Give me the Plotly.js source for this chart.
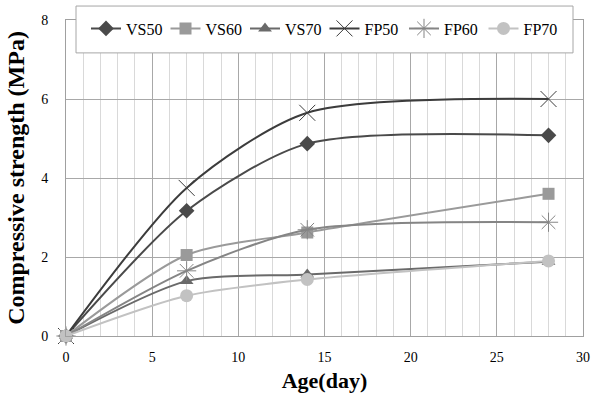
<!DOCTYPE html>
<html>
<head>
<meta charset="utf-8">
<script src="https://cdn.plot.ly/plotly-3.0.1.min.js"></script>
<style>html,body{margin:0;padding:0;background:#fff;}#chart{width:595px;height:403px;}</style>
</head>
<body>
<div id="chart"></div>
<script>
const ages = [0, 7, 14, 28];
const VS50 = [0, 3.17, 4.87, 5.08];
const VS60 = [0, 2.05, 2.62, 3.60];
const VS70 = [0, 1.39, 1.56, 1.88];
const FP50 = [0, 3.75, 5.65, 6.00];
const FP60 = [0, 1.65, 2.69, 2.88];
const FP70 = [0, 1.02, 1.43, 1.90];
const seriesNames = ['VS50', 'VS60', 'VS70', 'FP50', 'FP60', 'FP70'];
const seriesData = [VS50, VS60, VS70, FP50, FP60, FP70];
const xTicks = [0, 5, 10, 15, 20, 25, 30];
const yTicks = [0, 2, 4, 6, 8];

const styles = [
  {color: '#4a4a4a', symbol: 'diamond', size: 12, lw: 2},
  {color: '#9a9a9a', symbol: 'square', size: 12, lw: 2},
  {color: '#6a6a6a', symbol: 'triangle-up', size: 12, lw: 2},
  {color: '#3c3c3c', symbol: 'x-thin-open', size: 16, lw: 2},
  {color: '#858585', symbol: 'asterisk-open', size: 16, lw: 2},
  {color: '#c2c2c2', symbol: 'circle', size: 13, lw: 2}
];

const traces = seriesNames.map((n, i) => {
  const s = styles[i];
  const open = s.symbol.indexOf('open') >= 0;
  return {
    x: ages, y: seriesData[i], name: n, type: 'scatter', mode: 'lines+markers',
    line: {color: s.color, width: s.lw, shape: 'spline', smoothing: 0.75},
    marker: {symbol: s.symbol, size: s.size, color: s.color,
             line: {color: s.color, width: open ? 1 : 0}},
    cliponaxis: false
  };
});

const font = 'Liberation Serif, Times New Roman, serif';
const L = 66, R = 583, T = 19, B = 336;
const W = R - L, H = B - T;
const px2x = p => (p - L) / W;
const px2y = p => 1 - (p - T) / H;

const layout = {
  width: 595, height: 403,
  margin: {l: L, r: 595 - R, t: T, b: 403 - B, pad: 0},
  paper_bgcolor: '#fff', plot_bgcolor: '#fff',
  font: {family: font, color: '#000', size: 14},
  showlegend: true,
  legend: {
    orientation: 'h', x: px2x(86), xanchor: 'left', y: px2y(28.5), yanchor: 'middle',
    bgcolor: 'rgba(0,0,0,0)', borderwidth: 0,
    font: {family: font, size: 16, color: '#000'},
    entrywidthmode: 'pixels', entrywidth: 34.5, itemwidth: 30
  },
  xaxis: {
    range: [0, 30], tickvals: xTicks, ticktext: xTicks.map(String),
    showgrid: true, gridcolor: '#a8a8a8', gridwidth: 1,
    minor: {dtick: 1, showgrid: true, gridcolor: '#d9d9d9', gridwidth: 1, tick0: 0},
    zeroline: false, showline: true, linecolor: '#a0a0a0', linewidth: 1, mirror: true,
    ticks: '', ticklabelstandoff: 8,
    tickfont: {family: font, size: 14, color: '#000'},
    title: {text: '<b>Age(day)</b>', font: {family: font, size: 22, color: '#000'}, standoff: 8},
    automargin: false
  },
  yaxis: {
    range: [0, 8], tickvals: yTicks, ticktext: yTicks.map(String),
    showgrid: true, gridcolor: '#a8a8a8', gridwidth: 1,
    zeroline: false, showline: true, linecolor: '#a0a0a0', linewidth: 1, mirror: true,
    ticks: '', ticklabelstandoff: 14,
    tickfont: {family: font, size: 14, color: '#000'},
    title: {text: '<b>Compressive strength (MPa)</b>', font: {family: font, size: 24, color: '#000'}, standoff: 9},
    automargin: false
  },
  shapes: [{
    type: 'rect', xref: 'paper', yref: 'paper', layer: 'above',
    x0: px2x(76), x1: px2x(573), y0: px2y(52), y1: px2y(5),
    line: {color: '#a6a6a6', width: 1}, fillcolor: '#ffffff'
  }]
};

Plotly.newPlot('chart', traces, layout, {staticPlot: true, displayModeBar: false});
</script>
</body>
</html>
